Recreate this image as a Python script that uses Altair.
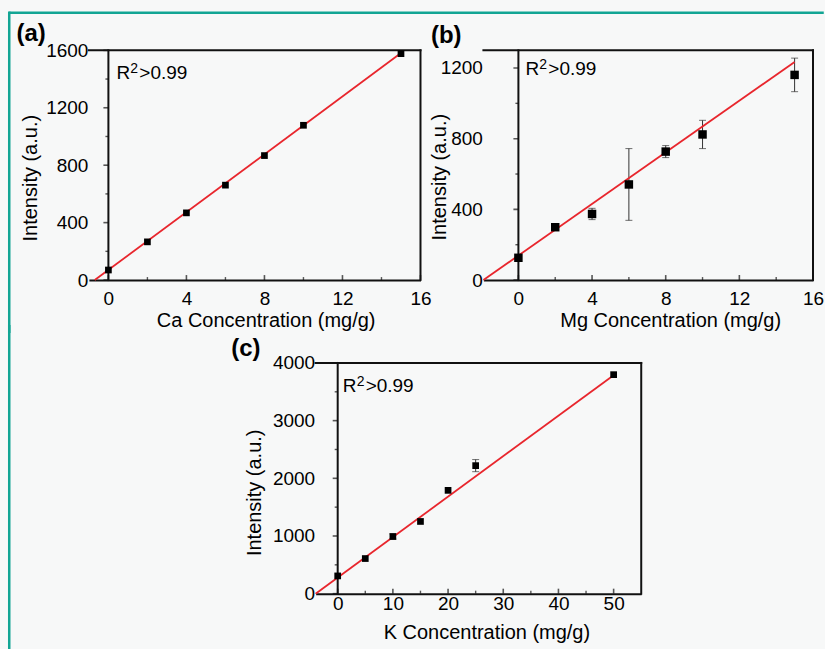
import altair as alt
import pandas as pd

# ---------------- data ----------------
ca_conc = [0, 2, 4, 6, 8, 10, 15]
ca_int = [70, 266, 468, 661, 867, 1078, 1577]
ca_err = [0, 0, 0, 0, 0, 0, 0]
ca_fit_x = [-0.7, 15]
ca_fit_y = [0, 1581]

mg_conc = [0, 2, 4, 6, 8, 10, 15]
mg_int = [126, 299, 374, 541, 727, 824, 1161]
mg_err = [0, 0, 32, 203, 34, 80, 95]
mg_fit_x = [-1.9, 15]
mg_fit_y = [0, 1234]

k_conc = [0, 5, 10, 15, 20, 25, 50]
k_int = [308, 609, 991, 1252, 1791, 2220, 3797]
k_err = [0, 0, 45, 0, 0, 105, 0]
k_fit_x = [-4, 50]
k_fit_y = [0, 3786]

ca_xticks, ca_xminor = [0, 4, 8, 12, 16], [2, 6, 10, 14]
ca_yticks, ca_yminor = [0, 400, 800, 1200, 1600], [200, 600, 1000, 1400]
mg_xticks, mg_xminor = [0, 4, 8, 12, 16], [2, 6, 10, 14]
mg_yticks, mg_yminor = [0, 400, 800, 1200], [200, 600, 1000]
k_xticks, k_xminor = [0, 10, 20, 30, 40, 50], [5, 15, 25, 35, 45]
k_yticks, k_yminor = [0, 1000, 2000, 3000, 4000], [500, 1500, 2500, 3500]

FONT = "Liberation Sans"
AX = "#111111"
RED = "#e8262d"
ERR = "#333333"
TEAL = "#12a594"


def panel(conc, inten, err, fx, fy, xdom, ydom, xt, xm, yt, ym, w, h,
          xtitle, tag, xlab_pad, xtitle_xy, ytitle_xy, r2_off, pt_size, tag_off,
          extra=()):
    xs = alt.Scale(domain=xdom, nice=False, zero=False)
    ys = alt.Scale(domain=ydom, nice=False, zero=False)
    xax = alt.Axis(values=xt, title=xtitle, format="d", domain=True, domainColor=AX,
                   domainWidth=2, ticks=False, tickSize=0, labelPadding=xlab_pad,
                   labelFontSize=19, labelFont=FONT, labelColor="black", labelFlush=False,
                   labelOverlap=False, grid=False, titleFont=FONT, titleFontSize=20,
                   titleFontWeight="normal", titleColor="black", titleX=xtitle_xy[0],
                   titleY=xtitle_xy[1], titleAlign="center", titleBaseline="alphabetic")
    yax = alt.Axis(values=yt, title="Intensity (a.u.)", format="d", domain=False, ticks=False,
                   tickSize=0, labelPadding=1, labelFontSize=19, labelFont=FONT,
                   labelColor="black", labelFlush=False, labelOverlap=False, grid=False,
                   titleFont=FONT, titleFontSize=20, titleFontWeight="normal",
                   titleColor="black", titleAngle=270, titleX=ytitle_xy[0],
                   titleY=ytitle_xy[1], titleAlign="center", titleBaseline="middle")

    def X(f):
        return alt.X(f, type="quantitative", scale=xs, axis=xax)

    def Y(f):
        return alt.Y(f, type="quantitative", scale=ys, axis=yax)

    layers = list(extra)
    # frame: top and right borders, y-axis line at x=0
    top_df = pd.DataFrame({"x": [xdom[0]], "x2": [xdom[1]], "y": [ydom[1]]})
    layers.append(alt.Chart(top_df).mark_rule(color=AX, strokeWidth=2, strokeCap="square")
                  .encode(x=X("x"), x2=alt.X2("x2"), y=Y("y")))
    right_df = pd.DataFrame({"x": [xdom[1]], "y": [ydom[0]], "y2": [ydom[1]]})
    layers.append(alt.Chart(right_df).mark_rule(color=AX, strokeWidth=2, strokeCap="square")
                  .encode(x=X("x"), y=Y("y"), y2=alt.Y2("y2")))
    yaxis_df = pd.DataFrame({"x": [0], "y": [ydom[0]], "y2": [ydom[1]]})
    layers.append(alt.Chart(yaxis_df).mark_rule(color=AX, strokeWidth=2, strokeCap="square")
                  .encode(x=X("x"), y=Y("y"), y2=alt.Y2("y2")))

    # y ticks (pointing left from the x=0 axis)
    ymaj_df = pd.DataFrame({"x": [0] * len(yt), "y": yt})
    layers.append(alt.Chart(ymaj_df).mark_tick(orient="horizontal", size=5, thickness=1.6,
                                               color=AX, xOffset=-2.5)
                  .encode(x=X("x"), y=Y("y")))
    ymin_df = pd.DataFrame({"x": [0] * len(ym), "y": ym})
    layers.append(alt.Chart(ymin_df).mark_tick(orient="horizontal", size=3, thickness=1.4,
                                               color=AX, xOffset=-1.5)
                  .encode(x=X("x"), y=Y("y")))
    # x ticks (pointing up from the bottom axis)
    xmaj_df = pd.DataFrame({"x": xt, "y": [ydom[0]] * len(xt)})
    layers.append(alt.Chart(xmaj_df).mark_tick(orient="vertical", size=5, thickness=1.6,
                                               color=AX, yOffset=-2.5)
                  .encode(x=X("x"), y=Y("y")))
    xmin_df = pd.DataFrame({"x": xm, "y": [ydom[0]] * len(xm)})
    layers.append(alt.Chart(xmin_df).mark_tick(orient="vertical", size=3, thickness=1.4,
                                               color=AX, yOffset=-1.5)
                  .encode(x=X("x"), y=Y("y")))

    # error bars
    eb = [(c, v - e, v + e) for c, v, e in zip(conc, inten, err) if e > 0]
    if eb:
        eb_df = pd.DataFrame({"x": [r[0] for r in eb], "lo": [r[1] for r in eb],
                              "hi": [r[2] for r in eb]})
        layers.append(alt.Chart(eb_df).mark_rule(color=ERR, strokeWidth=1)
                      .encode(x=X("x"), y=Y("lo"), y2=alt.Y2("hi")))
        cap_df = pd.DataFrame({"x": [r[0] for r in eb] * 2,
                               "y": [r[1] for r in eb] + [r[2] for r in eb]})
        layers.append(alt.Chart(cap_df).mark_tick(orient="horizontal", size=7, thickness=1,
                                                  color=ERR)
                      .encode(x=X("x"), y=Y("y")))

    # fit line
    fit_df = pd.DataFrame({"x": fx, "y": fy})
    layers.append(alt.Chart(fit_df).mark_line(color=RED, strokeWidth=1.8)
                  .encode(x=X("x"), y=Y("y")))
    # points
    pts_df = pd.DataFrame({"x": conc, "y": inten})
    layers.append(alt.Chart(pts_df).mark_square(size=pt_size, color="black", opacity=1,
                                                filled=True)
                  .encode(x=X("x"), y=Y("y")))

    # R^2 annotation
    r2_df = pd.DataFrame({"x": [0], "y": [ydom[1]]})
    dx, dy = r2_off
    for txt, ox, oy, fs in [("R", 0, 0, 19), ("2", 14, -6, 14), (">0.99", 23, 0, 19)]:
        layers.append(alt.Chart(r2_df).mark_text(text=txt, align="left", baseline="alphabetic",
                                                 dx=dx + ox, dy=dy + oy, fontSize=fs,
                                                 font=FONT, color="black")
                      .encode(x=X("x"), y=Y("y")))

    # panel tag
    tag_df = pd.DataFrame({"x": [xdom[0]], "y": [ydom[1]]})
    layers.append(alt.Chart(tag_df).mark_text(text=tag, align="left", baseline="alphabetic",
                                              dx=tag_off[0], dy=tag_off[1], fontSize=24,
                                              fontWeight="bold", font=FONT, color="black")
                  .encode(x=X("x"), y=Y("y")))

    return alt.layer(*layers).properties(width=w, height=h)


# teal page border (upper part lives with panel (a), lower part with the spacer)
border_df = pd.DataFrame({"k": [0]})
border_top = [
    alt.Chart(border_df).mark_rule(color=TEAL, strokeWidth=2.5, strokeCap="square").encode(
        x=alt.value(-79.75), y=alt.value(-37.75), y2=alt.value(281.75)),
    alt.Chart(border_df).mark_rule(color=TEAL, strokeWidth=2.5).encode(
        x=alt.value(-79.75), x2=alt.value(735.75), y=alt.value(-37.75)),
]

pa = panel(ca_conc, ca_int, ca_err, ca_fit_x, ca_fit_y, [-1, 16], [0, 1600],
           ca_xticks, ca_xminor, ca_yticks, ca_yminor, 332, 230,
           "Ca Concentration (mg/g)", "(a)", 9, (177, 46), (-58, 127.5), (8, 29), 45,
           (-72.5, -9), extra=border_top)
pb = panel(mg_conc, mg_int, mg_err, mg_fit_x, mg_fit_y, [-1.9, 16], [0, 1300],
           mg_xticks, mg_xminor, mg_yticks, mg_yminor, 330, 230,
           "Mg Concentration (mg/g)", "(b)", 9, (187, 46), (-43.5, 126.5), (7, 25), 72,
           (-52.5, -7))
pc = panel(k_conc, k_int, k_err, k_fit_x, k_fit_y, [-4, 55], [0, 4000],
           k_xticks, k_xminor, k_yticks, k_yminor, 326, 231,
           "K Concentration (mg/g)", "(c)", 1, (171, 45), (-61, 129.5), (5, 29), 45,
           (-84.5, -6.5))

spacer = alt.Chart(border_df).mark_rule(color=TEAL, strokeWidth=2.5, strokeCap="square").encode(
    x=alt.value(-79.75), y=alt.value(-36.75), y2=alt.value(287.75)
).properties(width=164, height=231)

top = alt.hconcat(pa, pb, spacing=63, bounds="flush")
bottom = alt.hconcat(spacer, pc, spacing=63, bounds="flush")
chart = alt.vconcat(top, bottom, spacing=-10).properties(
    padding={"left": 7, "top": 10, "right": 0, "bottom": 0}
).configure(background="#f7f8f8").configure_view(strokeWidth=0)

chart.save("out.html", embed_options={"renderer": "svg", "actions": False})
